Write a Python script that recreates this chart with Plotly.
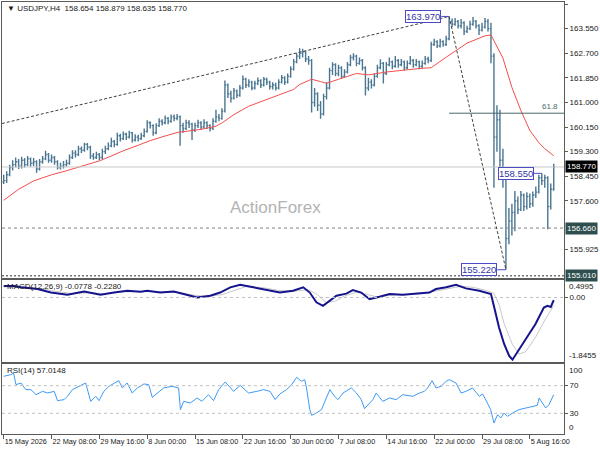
import plotly.graph_objects as go
from plotly.subplots import make_subplots

# USDJPY H4 chart, 15 May - 7 Aug 2026 (drawn as 8h bars, one bar = 2 H4 bars)
FIRST_OPEN = 158.25
CLOSE = [158.30, 158.50, 158.75, 158.85, 158.95, 158.80, 159.00, 158.85, 159.05, 158.90,
         158.95, 158.70, 158.95, 159.05, 159.20, 159.00, 159.10, 158.95, 158.75, 158.80,
         158.85, 158.90, 159.10, 159.25, 159.20, 159.40, 159.35, 159.55, 159.45, 159.15,
         159.10, 159.20, 159.10, 159.30, 159.40, 159.50, 159.65, 159.55, 159.85, 159.75,
         159.90, 159.80, 159.95, 159.70, 159.80, 159.75, 159.85, 160.00, 160.30, 160.20,
         159.95, 160.20, 160.35, 160.30, 160.45, 160.35, 160.50, 160.45, 160.50, 160.20,
         160.10, 160.30, 160.25, 160.05, 160.20, 160.30, 160.15, 160.30, 160.20, 160.10,
         160.35, 160.50, 160.45, 160.70, 161.60, 161.30, 161.15, 161.40, 161.25, 161.50,
         161.80, 161.60, 161.70, 161.50, 161.65, 161.75, 161.60, 161.80, 161.70, 161.55,
         161.60, 161.50, 161.70, 161.85, 161.70, 161.90, 162.15, 162.40, 162.60, 162.70,
         162.75, 162.50, 162.45, 161.00, 161.30, 160.90, 160.60, 161.20, 161.50, 162.10,
         162.30, 162.00, 162.20, 161.90, 162.05, 162.30, 162.55, 162.60, 162.35, 162.45,
         162.20, 161.50, 161.70, 161.60, 161.90, 162.20, 162.35, 162.00, 162.30, 162.40,
         162.25, 162.45, 162.30, 162.40, 162.20, 162.35, 162.45, 162.30, 162.40, 162.25,
         162.35, 162.50, 162.45, 163.00, 163.10, 162.95, 163.10, 163.00, 163.20, 163.80,
         163.70, 163.80, 163.65, 163.75, 163.45, 163.55, 163.70, 163.80, 163.65, 163.50,
         163.60, 163.80, 163.55, 162.60, 159.80, 160.40, 159.00, 158.50, 156.30, 156.90,
         157.20, 157.60, 157.30, 157.80, 157.40, 157.75, 157.50, 157.80, 157.90, 158.40,
         158.30, 158.40, 157.40, 158.00, 158.77]
HIGH = [158.50, 158.62, 158.85, 159.00, 159.10, 159.05, 159.12, 159.08, 159.15, 159.10,
        159.08, 159.00, 159.05, 159.15, 159.33, 159.25, 159.20, 159.15, 159.00, 158.92,
        158.98, 159.02, 159.20, 159.35, 159.35, 159.50, 159.48, 159.61, 159.60, 159.50,
        159.25, 159.30, 159.25, 159.40, 159.50, 159.62, 159.78, 159.70, 159.95, 159.92,
        160.00, 159.95, 160.02, 159.98, 159.90, 159.88, 159.95, 160.10, 160.38, 160.35,
        160.25, 160.28, 160.45, 160.42, 160.55, 160.50, 160.58, 160.58, 160.60, 160.55,
        160.30, 160.40, 160.38, 160.30, 160.30, 160.40, 160.35, 160.42, 160.35, 160.25,
        160.45, 160.75, 160.60, 160.80, 161.76, 161.65, 161.40, 161.50, 161.45, 161.60,
        161.93, 161.85, 161.80, 161.75, 161.75, 161.86, 161.80, 161.88, 161.85, 161.75,
        161.70, 161.68, 161.80, 161.95, 161.90, 162.00, 162.25, 162.50, 162.70, 162.87,
        162.85, 162.78, 162.60, 162.50, 161.50, 161.35, 161.05, 161.30, 161.70, 162.20,
        162.39, 162.35, 162.30, 162.25, 162.15, 162.40, 162.65, 162.70, 162.65, 162.55,
        162.50, 162.25, 161.85, 161.80, 162.00, 162.30, 162.49, 162.40, 162.40, 162.55,
        162.45, 162.60, 162.50, 162.50, 162.45, 162.45, 162.60, 162.50, 162.50, 162.45,
        162.45, 162.60, 162.58, 163.10, 163.20, 163.15, 163.20, 163.15, 163.30, 163.97,
        163.90, 163.92, 163.85, 163.88, 163.80, 163.65, 163.82, 163.95, 163.85, 163.70,
        163.75, 163.92, 163.88, 163.75, 162.70, 160.90, 160.75, 159.40, 158.75, 157.35,
        157.50, 157.94, 157.75, 157.94, 157.85, 157.90, 157.85, 157.92, 158.10, 158.50,
        158.55, 158.50, 158.45, 158.20, 158.88]
LOW = [158.18, 158.22, 158.45, 158.65, 158.75, 158.70, 158.72, 158.75, 158.80, 158.78,
       158.80, 158.57, 158.65, 158.88, 159.00, 158.92, 158.92, 158.85, 158.68, 158.68,
       158.72, 158.78, 158.85, 159.05, 159.10, 159.15, 159.25, 159.30, 159.35, 159.05,
       159.02, 159.05, 159.00, 159.05, 159.22, 159.35, 159.45, 159.45, 159.50, 159.65,
       159.70, 159.70, 159.75, 159.62, 159.65, 159.65, 159.70, 159.80, 159.95, 160.10,
       159.85, 159.90, 160.15, 160.20, 160.25, 160.25, 160.30, 160.35, 160.38, 159.50,
       159.95, 160.05, 160.12, 159.70, 159.98, 160.12, 160.05, 160.10, 160.08, 160.00,
       160.05, 160.30, 160.35, 160.40, 160.65, 161.15, 161.00, 161.10, 161.15, 161.20,
       161.45, 161.50, 161.52, 161.42, 161.45, 161.60, 161.50, 161.55, 161.60, 161.45,
       161.45, 161.41, 161.45, 161.65, 161.60, 161.65, 161.85, 162.10, 162.35, 162.50,
       162.55, 162.40, 162.30, 160.65, 160.85, 160.70, 160.44, 160.55, 161.10, 161.45,
       161.95, 161.90, 161.90, 161.83, 161.85, 162.00, 162.25, 162.45, 162.25, 162.30,
       162.10, 161.24, 161.40, 161.48, 161.55, 161.85, 162.15, 161.65, 161.95, 162.25,
       162.15, 162.20, 162.20, 162.25, 162.10, 162.15, 162.30, 162.20, 162.25, 162.15,
       162.18, 162.30, 162.35, 162.40, 162.95, 162.88, 162.90, 162.92, 162.95, 163.15,
       163.60, 163.65, 163.55, 163.55, 163.33, 163.40, 163.50, 163.65, 163.55, 163.33,
       163.45, 163.55, 163.45, 162.35, 158.05, 159.30, 158.60, 158.05, 155.22, 156.10,
       156.40, 156.55, 157.15, 157.25, 157.25, 157.30, 157.35, 157.40, 157.70, 157.85,
       158.15, 158.05, 156.62, 157.30, 157.95]

# moving average (red) read at sample bars
MA_IDX = [0, 5, 10, 16, 21, 27, 32, 36, 40, 45, 49, 54, 58, 66, 71, 73, 77, 82, 88, 93,
          97, 99, 103, 106, 108, 112, 118, 122, 128, 139, 143, 148, 155, 161, 163, 167, 170,
          173, 176, 179, 181, 184]
MA_VAL = [157.62, 158.00, 158.29, 158.50, 158.64, 158.82, 158.98, 159.15, 159.33, 159.52,
          159.68, 159.84, 159.96, 160.07, 160.18, 160.29, 160.58, 160.87, 161.10, 161.28,
          161.45, 161.62, 161.80, 161.72, 161.66, 161.80, 162.00, 161.95, 162.05, 162.17,
          162.20, 162.56, 163.05, 163.30, 163.33, 162.53, 161.52, 160.72, 160.03, 159.61,
          159.40, 159.16]

MACD_IDX = [0, 3.5, 5.8, 11.3, 15.8, 21.3, 26.9, 32.4, 36.9, 41.3, 45.8, 48, 52.4, 56.9,
            60.2, 64.7, 69.1, 72.4, 75.8, 79.1, 83.5, 88, 92.4, 96.8, 100.2, 102.4, 104.6,
            106.8, 109.1, 111.3, 114.6, 116.8, 119.6, 122.4, 125.7, 129.1, 133.5, 136.8,
            142.4, 144.6, 148, 151.3, 154.6, 159.1, 163, 164.1, 165.7, 167.4, 169.1, 170.2,
            171.8, 174.6, 177.9, 180.7, 181.9, 183, 184]
MACD_VAL = [0.33, 0.33, 0.29, 0.24, 0.14, 0.08, 0.17, 0.08, 0.14, 0.19, 0.16, 0.19, 0.14,
            0.17, 0.10, 0.00, 0.05, 0.14, 0.29, 0.36, 0.29, 0.21, 0.14, 0.19, 0.29, 0.14,
            -0.14, -0.24, -0.10, 0.05, 0.11, 0.21, 0.14, -0.05, 0.02, 0.10, 0.08, 0.11,
            0.14, 0.24, 0.29, 0.36, 0.26, 0.19, 0.10, -0.29, -0.86, -1.33, -1.67, -1.78,
            -1.57, -1.19, -0.76, -0.29, -0.24, -0.27, -0.0778]
SIG_IDX = [0, 6, 12, 17, 23, 28, 34, 40, 48, 54, 59, 63, 68, 73, 77, 81, 86, 92, 97, 102,
           105, 108, 111, 114, 118, 121, 125, 129, 134, 140, 145, 149, 153, 157, 161, 164,
           165.7, 167.4, 170.2, 172.4, 174.6, 177.9, 181.2, 184]
SIG_VAL = [0.30, 0.31, 0.26, 0.18, 0.11, 0.13, 0.11, 0.16, 0.17, 0.16, 0.14, 0.07, 0.03,
           0.08, 0.20, 0.31, 0.29, 0.20, 0.18, 0.22, 0.08, -0.15, -0.10, 0.04, 0.15, 0.10,
           0.01, 0.06, 0.08, 0.11, 0.19, 0.26, 0.32, 0.29, 0.21, 0.12, -0.20, -0.75, -1.35,
           -1.62, -1.55, -1.14, -0.62, -0.228]

RSI_IDX = [0, 2.4, 3.3, 4.1, 5.8, 7.4, 9.1, 10.8, 13, 14.7, 16.9, 18, 20.2, 21.3, 23, 25.2,
           27.4, 29.1, 30.8, 31.9, 33.5, 35.2, 38.5, 39.7, 41.3, 43, 44.7, 46.9, 48.5, 49.7,
           51.3, 53.5, 56.3, 58.5, 59.1, 60.2, 62.4, 64.7, 66.3, 68.5, 70.2, 71.9, 74.1,
           75.8, 76.9, 79.1, 81.9, 84.7, 86.9, 89.1, 90.8, 92.4, 94.6, 96.3, 98, 99.6,
           100.7, 101.3, 102.4, 103, 104.6, 106.3, 107.4, 109.1, 110.7, 111.8, 113.5, 116.3,
           118, 119.6, 120.7, 121.8, 123.5, 124.6, 126.8, 129.1, 131.3, 133.5, 136.8, 139.1,
           140.7, 141.8, 143.3, 144.6, 146.3, 148, 149.1, 151.3, 153, 154.6, 156.8, 159.1,
           160.2, 161.8, 162.9, 164, 165.2, 166.3, 167.4, 168.5, 170.2, 172.4, 175.7, 178.5,
           179.1, 181.3, 182.4, 184]
RSI_VAL = [83.6, 86, 88.4, 71.5, 73.9, 64.3, 64.3, 57, 61.8, 59.4, 61.8, 48.3, 49.8, 54.6,
           64.3, 69.1, 73.9, 47.3, 54.6, 48.3, 61.8, 69.1, 77.3, 66.7, 73.9, 59.4, 66.7,
           72.5, 71.5, 53.1, 59.4, 66.7, 69.1, 66.7, 35.3, 47.3, 44.9, 52.2, 47.3, 57, 48.3,
           64.3, 75.4, 66.7, 61.8, 70.5, 59.4, 61.8, 64.3, 61.8, 49.8, 58, 64.3, 71.5, 82.1,
           76.3, 78.7, 66.7, 35.3, 27.1, 30.4, 35.3, 47.3, 64.3, 54.6, 49.8, 59.4, 66.7,
           59.4, 49.8, 36.7, 42.5, 49.8, 59.4, 47.3, 52.2, 49.8, 57, 54.6, 59.4, 61.8, 66.7,
           77.3, 66.7, 69.1, 76.3, 78.7, 73.9, 59.4, 61.8, 66.7, 54.6, 58, 44.9, 35.3, 15.9,
           28, 23.2, 30.4, 25.6, 30.4, 35.3, 38.6, 41.5, 52.2, 37.7, 42.5, 57.0148]

TICK_LABELS = ["15 May 2026", "22 May 08:00", "29 May 16:00", "8 Jun 00:00", "15 Jun 08:00",
               "22 Jun 16:00", "30 Jun 00:00", "7 Jul 08:00", "14 Jul 16:00", "22 Jul 00:00",
               "29 Jul 08:00", "5 Aug 16:00"]
TICK_STEP = 16

PRICE_TICKS = [164.400, 163.550, 162.700, 161.850, 161.000, 160.150, 159.300, 158.450,
               157.600, 155.925]

SWING_HIGH, SWING_HIGH_BAR = 163.970, 149
SWING_LOW, SWING_LOW_BAR = 155.220, 168
PULLBACK_HIGH, PULLBACK_HIGH_BAR = 158.550, 180
SUPPORT = 156.660
LOWER_LEVEL = 155.010
LAST_PRICE = 158.770
TREND_START = (-0.6, 160.27)

FONT = "Liberation Sans"
BAR_COLOR = "#4a7691"
BOX_COLOR = "#4b4bc4"

bars = list(range(len(CLOSE)))
opens = [FIRST_OPEN] + CLOSE[:-1]
x_min, x_max = -0.57, 187.43

fig = make_subplots(rows=3, cols=1, shared_xaxes=True, vertical_spacing=0.0)

fig.add_trace(go.Ohlc(x=bars, open=opens, high=HIGH, low=LOW, close=CLOSE,
                      increasing_line_color=BAR_COLOR, decreasing_line_color=BAR_COLOR,
                      line_width=1.4, tickwidth=0.4, showlegend=False, hoverinfo="skip"),
              row=1, col=1)
fig.add_trace(go.Scatter(x=MA_IDX, y=MA_VAL, mode="lines", line=dict(color="#f44e4e", width=1),
                         showlegend=False, hoverinfo="skip"), row=1, col=1)

fig.add_trace(go.Scatter(x=SIG_IDX, y=SIG_VAL, mode="lines", line=dict(color="#c8c8c8", width=1),
                         showlegend=False, hoverinfo="skip"), row=2, col=1)
fig.add_trace(go.Scatter(x=MACD_IDX, y=MACD_VAL, mode="lines",
                         line=dict(color="#14148c", width=2), showlegend=False,
                         hoverinfo="skip"), row=2, col=1)

fig.add_trace(go.Scatter(x=RSI_IDX, y=RSI_VAL, mode="lines", line=dict(color="#3d9bf5", width=1),
                         showlegend=False, hoverinfo="skip"), row=3, col=1)

# horizontal levels
fig.add_hline(y=LAST_PRICE, line=dict(color="#c8c8c8", width=1), row=1, col=1)
fig.add_hline(y=SUPPORT, line=dict(color="#808080", width=1, dash="3px,3px"), row=1, col=1)
fig.add_hline(y=LOWER_LEVEL, line=dict(color="#303030", width=1, dash="2px,2px"), row=1, col=1)
fig.add_hline(y=0, line=dict(color="#c0c0c0", width=1, dash="dot"), row=2, col=1)
fig.add_hline(y=70, line=dict(color="#c0c0c0", width=1, dash="dot"), row=3, col=1)
fig.add_hline(y=30, line=dict(color="#c0c0c0", width=1, dash="dot"), row=3, col=1)

# trend lines and fibo level
fib = SWING_LOW + 0.618 * (SWING_HIGH - SWING_LOW)
trend = dict(color="#404040", width=1, dash="3px,2px")
shapes = [
    dict(type="line", xref="x", yref="y", x0=TREND_START[0], y0=TREND_START[1],
         x1=SWING_HIGH_BAR, y1=SWING_HIGH, line=trend),
    dict(type="line", xref="x", yref="y", x0=SWING_HIGH_BAR, y0=SWING_HIGH,
         x1=SWING_LOW_BAR, y1=SWING_LOW, line=trend),
    dict(type="line", xref="x", yref="y", x0=SWING_HIGH_BAR, y0=fib, x1=x_max, y1=fib,
         line=dict(color="#4a6a6a", width=1)),
    dict(type="line", xref="x", yref="y", x0=SWING_HIGH_BAR - 2.6, y0=SWING_HIGH,
         x1=SWING_HIGH_BAR, y1=SWING_HIGH, line=dict(color=BOX_COLOR, width=1)),
    dict(type="line", xref="x", yref="y", x0=SWING_LOW_BAR - 2.9, y0=SWING_LOW,
         x1=SWING_LOW_BAR, y1=SWING_LOW, line=dict(color=BOX_COLOR, width=1)),
    dict(type="line", xref="x", yref="y", x0=PULLBACK_HIGH_BAR - 2.6, y0=PULLBACK_HIGH,
         x1=PULLBACK_HIGH_BAR, y1=PULLBACK_HIGH, line=dict(color=BOX_COLOR, width=1)),
]
for s in shapes:
    fig.add_shape(**s)

small = dict(family=FONT, size=8, color="#202020")
ann = []


def price_box(bar_right, price, text):
    return dict(x=bar_right, y=price, xref="x", yref="y", text=text, showarrow=False,
                xanchor="right", yanchor="middle", bgcolor="white", bordercolor=BOX_COLOR,
                borderwidth=1, borderpad=0, font=dict(family=FONT, size=9.5, color="#3535a8"))


ann.append(price_box(SWING_HIGH_BAR - 2.6, SWING_HIGH, f"{SWING_HIGH:.3f}"))
ann.append(price_box(SWING_LOW_BAR - 2.9, SWING_LOW, f"{SWING_LOW:.3f}"))
ann.append(price_box(PULLBACK_HIGH_BAR - 2.6, PULLBACK_HIGH, f"{PULLBACK_HIGH:.3f}"))
ann.append(dict(x=x_max - 1.2, y=fib, xref="x", yref="y", text="61.8", showarrow=False,
                xanchor="right", yanchor="bottom", font=dict(family=FONT, size=8, color="#4a6a6a")))

# right side price tags
for price, bg in [(LAST_PRICE, "#000000"), (SUPPORT, "#2f4f4f"), (LOWER_LEVEL, "#2f4f4f")]:
    ann.append(dict(x=1.0, xshift=1, y=price, xref="paper", yref="y", text=f"{price:.3f}",
                    showarrow=False, xanchor="left", yanchor="middle", bgcolor=bg,
                    borderpad=1, font=dict(family=FONT, size=8, color="white")))

ann.append(dict(x=1.0, xshift=3, y=0.4995, xref="paper", yref="y2", text="0.4995",
                showarrow=False, xanchor="left", yanchor="top", font=small))
ann.append(dict(x=1.0, xshift=3, y=-1.8455, xref="paper", yref="y2", text="-1.8455",
                showarrow=False, xanchor="left", yanchor="bottom", font=small))
ann.append(dict(x=1.0, xshift=3, y=101.4, xref="paper", yref="y3", text="100",
                showarrow=False, xanchor="left", yanchor="top", font=small))
ann.append(dict(x=1.0, xshift=3, y=0, xref="paper", yref="y3", text="0",
                showarrow=False, xanchor="left", yanchor="bottom", font=small))

# panel captions
ann.append(dict(x=0.006, y=1.0, xref="paper", yref="paper", yanchor="top", xanchor="left",
                text="\u25bc USDJPY,H4  158.654 158.879 158.635 158.770", showarrow=False,
                font=small))
ann.append(dict(x=0.006, y=0.3565, xref="paper", yref="paper", yanchor="top", xanchor="left",
                text="MACD(12,26,9) -0.0778 -0.2280", showarrow=False, font=small))
ann.append(dict(x=0.006, y=0.162, xref="paper", yref="paper", yanchor="top", xanchor="left",
                text="RSI(14) 57.0148", showarrow=False, font=small))
ann.append(dict(x=0.486, y=0.525, xref="paper", yref="paper", text="ActionForex",
                showarrow=False, font=dict(family=FONT, size=17, color="#b3b3b3")))

frame = dict(showline=True, mirror=True, linecolor="#5a5a5a", linewidth=1,
             showgrid=False, zeroline=False)
yax = dict(frame, side="right", ticks="outside", ticklen=3, tickcolor="#5a5a5a",
           tickfont=small)

fig.update_layout(
    width=600, height=450,
    margin=dict(l=1, r=35, t=2, b=16),
    paper_bgcolor="white", plot_bgcolor="white",
    showlegend=False,
    annotations=ann,
    xaxis=dict(frame, range=[x_min, x_max], showticklabels=False, rangeslider_visible=False),
    xaxis2=dict(frame, range=[x_min, x_max], showticklabels=False),
    xaxis3=dict(frame, range=[x_min, x_max], tickmode="array",
                tickvals=[i * TICK_STEP for i in range(len(TICK_LABELS))],
                ticktext=TICK_LABELS, ticks="outside", ticklen=4, tickcolor="#5a5a5a",
                tickangle=0, ticklabelposition="outside right",
                tickfont=dict(family=FONT, size=7.3, color="#202020")),
    yaxis=dict(yax, domain=[0.3611, 1.0], range=[154.935, 164.469], tickmode="array",
               tickvals=PRICE_TICKS, ticktext=[f"{v:.3f}" for v in PRICE_TICKS]),
    yaxis2=dict(yax, domain=[0.1667, 0.3565], range=[-1.8455, 0.4995], tickmode="array",
                tickvals=[0], ticktext=["0.00"]),
    yaxis3=dict(yax, domain=[0.0, 0.162], range=[0, 101.4], tickmode="array",
                tickvals=[70, 30], ticktext=["70", "30"]),
)

# page body has a default margin; drop it so the figure fills the window
fig.write_html("out.html", config={"displayModeBar": False},
               post_script="document.body.style.margin='0px';")
